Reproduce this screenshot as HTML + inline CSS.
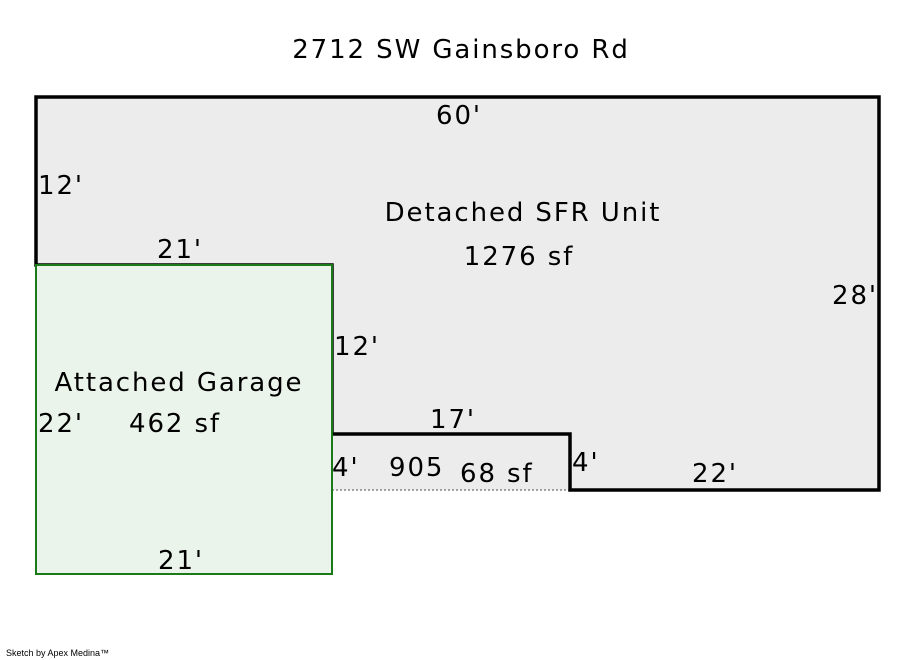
<!DOCTYPE html>
<html><head><style>body{margin:0;background:#fff}svg{display:block}text{letter-spacing:1.9px}</style></head>
<body>
<svg width="900" height="660" xmlns="http://www.w3.org/2000/svg" font-family="DejaVu Sans, Liberation Sans, sans-serif" font-size="26" fill="#000">
<text x="461" y="58" text-anchor="middle">2712 SW Gainsboro Rd</text>
<rect x="332" y="434" width="238" height="56" fill="#ececec"/>
<line x1="332" y1="490" x2="570" y2="490" stroke="#888" stroke-width="1.5" stroke-dasharray="2,2"/>
<polygon points="36,97 879,97 879,490 570,490 570,434 332,434 332,265 36,265" fill="#ececec" stroke="#000" stroke-width="3.5"/>
<rect x="36" y="265" width="296" height="309" fill="#ebf4eb" stroke="#1a7a1a" stroke-width="2"/>
<text x="459" y="124" text-anchor="middle">60'</text>
<text x="38" y="194">12'</text>
<text x="180" y="258" text-anchor="middle">21'</text>
<text x="523" y="221" text-anchor="middle">Detached SFR Unit</text>
<text x="519" y="265" text-anchor="middle">1276 sf</text>
<text x="832" y="304">28'</text>
<text x="334" y="355">12'</text>
<text x="179" y="391" text-anchor="middle">Attached Garage</text>
<text x="38" y="432">22'</text>
<text x="175" y="432" text-anchor="middle">462 sf</text>
<text x="453" y="428" text-anchor="middle">17'</text>
<text x="332" y="476">4'</text>
<text x="389" y="476">905</text>
<text x="460" y="482">68 sf</text>
<text x="572" y="471">4'</text>
<text x="715" y="482" text-anchor="middle">22'</text>
<text x="181" y="569" text-anchor="middle">21'</text>
<text x="6" y="656" font-size="9" font-family="Liberation Sans, sans-serif" style="letter-spacing:0">Sketch by Apex Medina™</text>
</svg>
</body></html>
